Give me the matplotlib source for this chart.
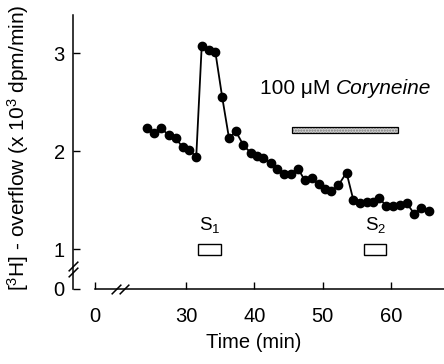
import numpy as np
import matplotlib
matplotlib.use("Agg")
import matplotlib.pyplot as plt
from matplotlib.patches import Rectangle

plt.rcParams['font.family'] = ['Liberation Sans', 'DejaVu Sans']
plt.rcParams['mathtext.fontset'] = 'custom'
plt.rcParams['mathtext.rm'] = 'Liberation Sans'
plt.rcParams['mathtext.it'] = 'Liberation Sans:italic'
plt.rcParams['mathtext.default'] = 'regular'

# time (min) and [3H] overflow (x 10^3 dpm/min)
time_min = [24.3, 25.3, 26.4, 27.5, 28.5, 29.5, 30.5, 31.5, 32.3, 33.3,
            34.3, 35.3, 36.3, 37.3, 38.4, 39.5, 40.4, 41.3, 42.4, 43.3,
            44.3, 45.3, 46.4, 47.4, 48.4, 49.4, 50.4, 51.3, 52.3, 53.5,
            54.5, 55.5, 56.5, 57.4, 58.3, 59.3, 60.3, 61.3, 62.3, 63.4,
            64.4, 65.6]
overflow = [2.24, 2.18, 2.23, 2.16, 2.13, 2.04, 2.01, 1.94, 3.07, 3.03,
            3.01, 2.55, 2.13, 2.20, 2.06, 1.98, 1.95, 1.93, 1.88, 1.82,
            1.77, 1.77, 1.82, 1.70, 1.72, 1.66, 1.61, 1.59, 1.65, 1.78,
            1.50, 1.47, 1.48, 1.48, 1.52, 1.44, 1.44, 1.45, 1.47, 1.36,
            1.42, 1.39]

stim_names = ['S$_1$', 'S$_2$']
stim_start = [31.8, 56.1]
stim_end = [35.1, 59.3]
drug_label = '100 \u03bcM '
drug_name = 'Coryneine'
drug_start = 45.5
drug_end = 61.0

xticks = [0, 30, 40, 50, 60]
yticks = [0, 1, 2, 3]


# broken axes: compress 0-20 min and 0-0.8 on the value axis
def fx(x):
    x = np.asarray(x, dtype=float)
    return np.where(x >= 20, x, 20 - (20 - x) * 0.166)


def fx_inv(u):
    u = np.asarray(u, dtype=float)
    return np.where(u >= 20, u, 20 - (20 - u) / 0.166)


def fy(y):
    y = np.asarray(y, dtype=float)
    return np.where(y >= 0.8, y, 0.8 - (0.8 - y) * 0.26)


def fy_inv(v):
    v = np.asarray(v, dtype=float)
    return np.where(v >= 0.8, v, 0.8 - (0.8 - v) / 0.26)


def main():
    fig = plt.figure(figsize=(4.44, 3.64), dpi=100)
    ax = fig.add_axes([73 / 444, 75 / 364, 371 / 444, 274 / 364])
    ax.set_xscale('function', functions=(fx, fx_inv))
    ax.set_yscale('function', functions=(fy, fy_inv))
    ax.set_xlim(-19.4, 67.77)
    ax.set_ylim(0, 3.388)

    ax.plot(time_min, overflow, color='black', lw=1.3, marker='o',
            ms=6, clip_on=False)

    for name, s, e in zip(stim_names, stim_start, stim_end):
        ax.add_patch(Rectangle((s, 0.94), e - s, 0.11, facecolor='white',
                               edgecolor='black', lw=1.0))
        ax.text((s + e) / 2, 1.14, name, ha='center', va='bottom',
                fontsize=13.5)

    ax.add_patch(Rectangle((drug_start, 2.18), drug_end - drug_start, 0.065,
                           facecolor='#d0d0d0', edgecolor='#777777',
                           hatch='......', lw=0))
    ax.add_patch(Rectangle((drug_start, 2.18), drug_end - drug_start, 0.065,
                           facecolor='none', edgecolor='black', lw=0.9))
    t1 = ax.text(40.8, 2.64, drug_label, ha='left', va='center', fontsize=15)
    ax.annotate(drug_name, xy=(1, 0), xycoords=t1, ha='left', va='bottom',
                fontsize=15, style='italic')

    for side in ['top', 'right']:
        ax.spines[side].set_visible(False)
    ax.spines['bottom'].set_bounds(0, 67.77)
    ax.spines['left'].set_bounds(0, 3.388)
    ax.spines['bottom'].set_linewidth(1.1)
    ax.spines['left'].set_linewidth(1.1)

    ax.set_xticks(xticks)
    ax.set_xticklabels([str(t) for t in xticks])
    ax.set_yticks(yticks)
    ax.set_yticklabels([str(t) for t in yticks])
    ax.tick_params(direction='in', length=5, width=1.0, labelsize=14.5)
    ax.tick_params(axis='x', pad=13)
    ax.tick_params(axis='y', pad=6)

    # break marks
    slash = [(-1, -1), (1, 1)]
    for dy in [-0.012, 0.012]:
        ax.plot([0], [0.073 + dy], transform=ax.transAxes, marker=slash,
                ms=7, mew=1.1, color='black', clip_on=False)
    for dx in [-0.01, 0.01]:
        ax.plot([0.127 + dx], [0], transform=ax.transAxes, marker=slash,
                ms=7, mew=1.1, color='black', clip_on=False)

    ax.set_xlabel('Time (min)', fontsize=14.5)
    ax.xaxis.set_label_coords(0.488, -0.16)
    ax.xaxis.label.set_va('top')
    ax.set_ylabel('[$^3$H] - overflow (x 10$^3$ dpm/min)', fontsize=15)
    ax.yaxis.set_label_coords(-0.148, 0.515)
    ax.yaxis.label.set_va('center')

    fig.savefig('out.png', dpi=100)


if __name__ == "__main__":
    main()
